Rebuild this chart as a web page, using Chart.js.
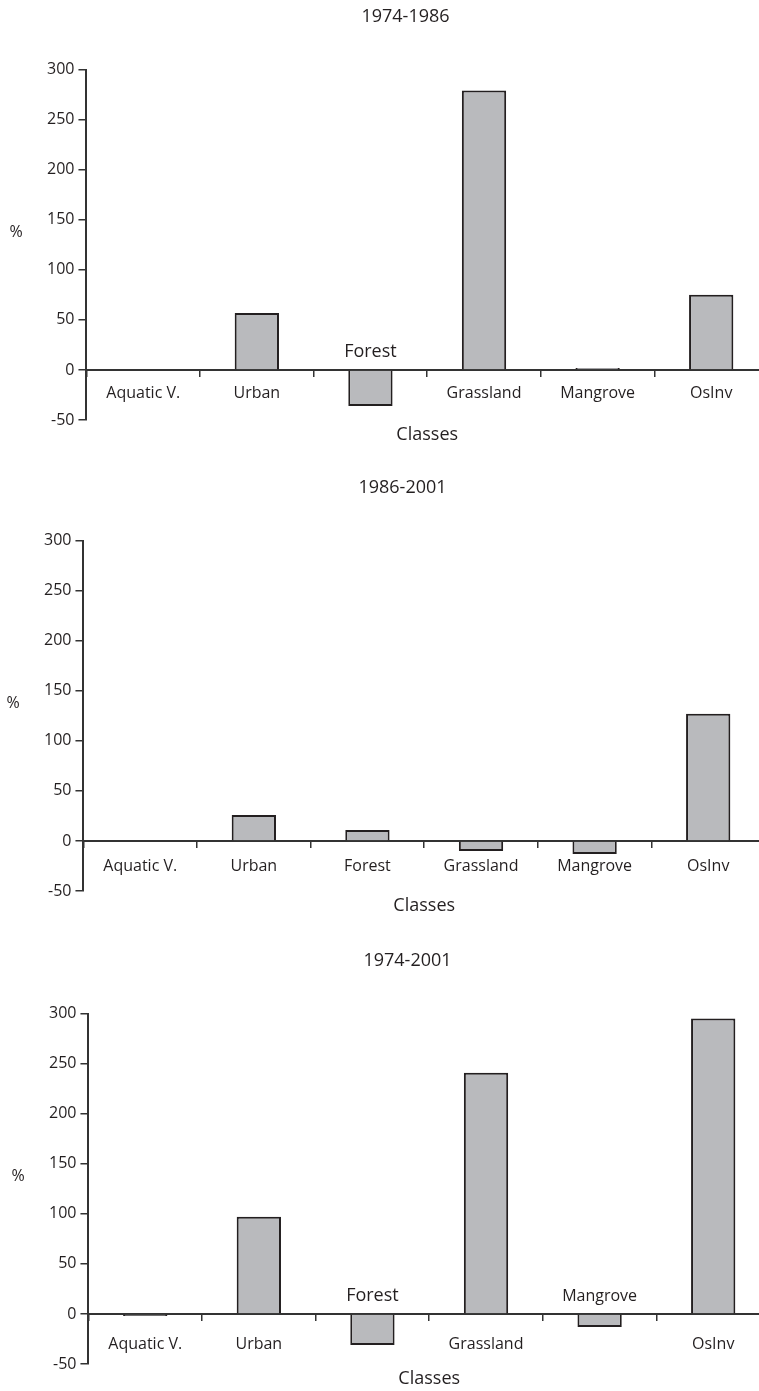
<!DOCTYPE html>
<html>
<head>
<meta charset="utf-8">
<title>Class change</title>
<script src="https://cdn.jsdelivr.net/npm/chart.js@4.4.1/dist/chart.umd.min.js"></script>
<style>
  html, body { margin: 0; padding: 0; background: #fff; }
  body { width: 759px; height: 1391px; position: relative; overflow: hidden; }
  .panel { position: absolute; width: 768px; height: 450px; }
</style>
</head>
<body>
<div class="panel" style="left:0;top:0"><canvas id="c1" width="768" height="450"></canvas></div>
<div class="panel" style="left:-3px;top:471px"><canvas id="c2" width="768" height="450"></canvas></div>
<div class="panel" style="left:2px;top:944px"><canvas id="c3" width="768" height="450"></canvas></div>
<script>
// land cover classes on the x axis
const classes = ['Aquatic V.', 'Urban', 'Forest', 'Grassland', 'Mangrove', 'OsInv'];

// % change per class for each period
const change7486 = [0, 57, -36, 279, 2, 75];
const change8601 = [0, 26, 11, -10, -13, 127];
const change7401 = [-2, 97, -31, 241, -13, 295];

// classes whose name sits above the zero line
const above7486 = ['Forest'];
const above8601 = [];
const above7401 = ['Forest', 'Mangrove'];

const yMin = -50;
const yMax = 300;
const yStep = 50;

const ink = '#231f20';
const axisCol = '#333333';
const barFill = '#b9babd';
const font = '"Open Sans", "Noto Sans", sans-serif';

// draws the "%" label, "Classes" and the class names that go above the axis
const panelText = {
  id: 'panelText',
  afterDraw(chart, args, opts) {
    const ctx = chart.ctx;
    const area = chart.chartArea;
    const xs = chart.scales.x;
    const zero = chart.scales.y.getPixelForValue(0);
    ctx.save();
    ctx.fillStyle = ink;
    ctx.textAlign = 'center';
    ctx.textBaseline = 'middle';
    ctx.font = '16px ' + font;
    ctx.fillText('%', 16, (area.top + area.bottom) / 2 - 12);
    ctx.font = '18px ' + font;
    ctx.fillText('Classes', (area.left + area.right) / 2, area.bottom + 15);
    (opts.above || []).forEach(name => {
      const i = classes.indexOf(name);
      const size = name === 'Forest' ? 18 : 16;
      ctx.font = size + 'px ' + font;
      ctx.fillText(name, xs.getPixelForValue(i), zero - 18);
    });
    ctx.restore();
  }
};

function makeChart(id, title, values, above, labelPad) {
  const ctx = document.getElementById(id).getContext('2d');
  return new Chart(ctx, {
    type: 'bar',
    data: {
      labels: classes,
      datasets: [{
        data: values,
        backgroundColor: barFill,
        borderColor: ink,
        borderWidth: 2,
        barPercentage: 0.39,
        categoryPercentage: 1
      }]
    },
    options: {
      responsive: false,
      animation: false,
      layout: { padding: { left: 43, right: 0, top: 0, bottom: 30 } },
      plugins: {
        legend: { display: false },
        tooltip: { enabled: false },
        title: {
          display: true,
          text: title,
          color: ink,
          font: { family: font, size: 18, weight: 'normal' },
          padding: { top: 6, bottom: 42 }
        },
        panelText: { above: above }
      },
      scales: {
        x: {
          type: 'category',
          position: { y: 0 },
          offset: true,
          grid: { offset: true, drawOnChartArea: false, tickLength: 6, color: axisCol, lineWidth: 1.5 },
          border: { color: axisCol, width: 2 },
          ticks: {
            color: ink,
            font: { family: font, size: 16 },
            padding: labelPad,
            maxRotation: 0,
            autoSkip: false,
            callback: function (v, i) {
              const name = classes[i];
              return above.includes(name) ? '' : name;
            }
          }
        },
        y: {
          min: yMin,
          max: yMax,
          grid: { drawOnChartArea: false, tickLength: 8, color: axisCol, lineWidth: 1.5 },
          border: { color: axisCol, width: 2 },
          ticks: {
            stepSize: yStep,
            color: ink,
            font: { family: font, size: 16 },
            padding: 4
          }
        }
      }
    },
    plugins: [panelText]
  });
}

makeChart('c1', '1974-1986', change7486, above7486, 8);
makeChart('c2', '1986-2001', change8601, above8601, 10);
makeChart('c3', '1974-2001', change7401, above7401, 15);
</script>
</body>
</html>
